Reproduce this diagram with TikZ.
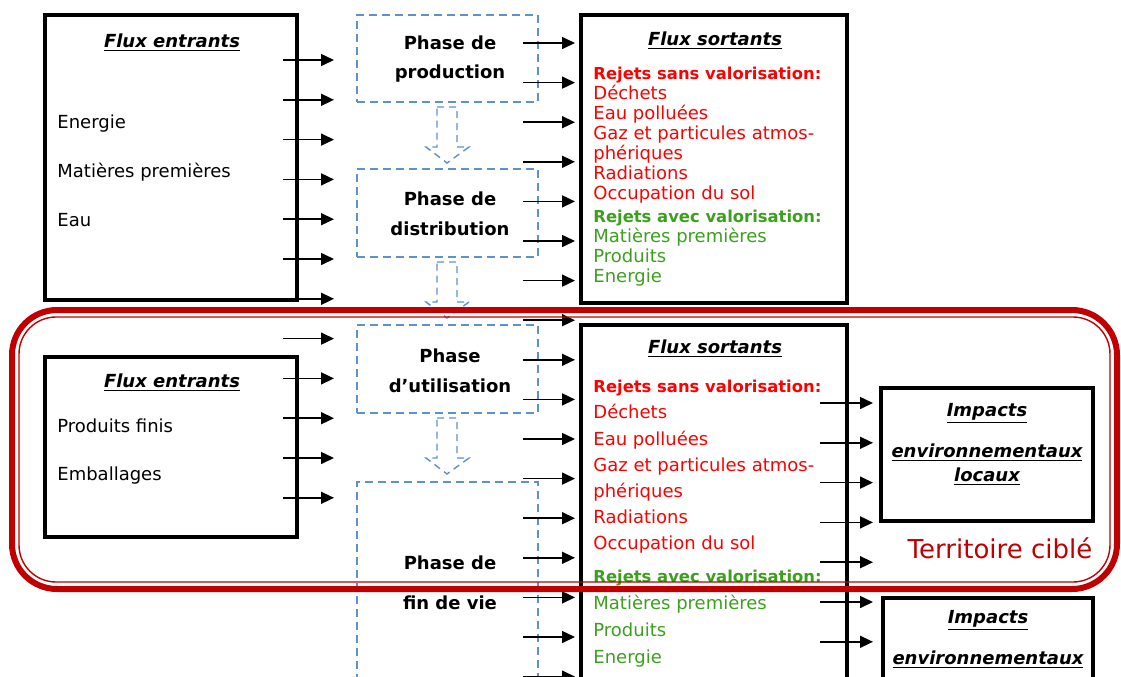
\documentclass[tikz,border=0pt]{standalone}
\usepackage{fontspec}
\setmainfont{DejaVu Sans}
\usetikzlibrary{arrows.meta,positioning}
\definecolor{rouge}{RGB}{255,0,0}
\definecolor{vert}{RGB}{60,160,30}
\definecolor{bleu}{RGB}{95,145,205}
\definecolor{bordeaux}{RGB}{192,0,0}
\tikzset{
  flux/.style={draw=black,line width=2.2pt,inner sep=0pt},
  phasebox/.style={draw=bleu,dash pattern=on 4pt off 2.5pt,line width=0.7pt,inner sep=0pt},
  phasearr/.style={draw=bleu,dash pattern=on 3.5pt off 2.5pt,line width=0.7pt},
  arr/.style={-{Triangle[length=6.5pt,width=6pt]},line width=0.8pt},
  titre/.style={anchor=base,inner sep=0pt,font=\fontsize{9}{10}\selectfont\bfseries\itshape},
  ptxt/.style={anchor=base,inner sep=0pt,font=\fontsize{9}{10}\selectfont\bfseries},
  txt/.style={anchor=base west,inner sep=0pt,font=\fontsize{9}{10}\selectfont},
  rtxt/.style={txt,text=rouge},
  vtxt/.style={txt,text=vert},
  rbold/.style={txt,text=rouge,font=\fontsize{8.2}{10}\selectfont\bfseries},
  vbold/.style={txt,text=vert,font=\fontsize{8.2}{10}\selectfont\bfseries},
  terr/.style={draw=bordeaux},
}

\begin{document}
\begin{tikzpicture}[x=0.5pt,y=-0.5pt]
  \useasboundingbox (0,0) rectangle (1121,676);
  \clip (0,0) rectangle (1121,676);
  % flux entrants
  \node[flux,minimum width=126pt,minimum height=142.5pt] (FE1) at (171,157.5) {};
  \node[titre] (FE1t) at (172,47) {\underline{Flux entrants}};
  \node[txt] (FE1a) at (57,128) {Energie};
  \node[txt] (FE1b) at (57,177) {Matières premières};
  \node[txt] (FE1c) at (57,226) {Eau};
  \node[flux,minimum width=126pt,minimum height=90pt] (FE2) at (171,447) {};
  \node[titre] (FE2t) at (172,387) {\underline{Flux entrants}};
  \node[txt] (FE2a) at (57,432) {Produits finis};
  \node[txt] (FE2b) at (57,480) {Emballages};
  % phases
  \node[phasebox,minimum width=90.5pt,minimum height=43.5pt] (P1) at (447.5,58.5) {};
  \node[phasebox,minimum width=90.5pt,minimum height=44pt] (P2) at (447.5,213) {};
  \node[phasebox,minimum width=90.5pt,minimum height=44pt] (P3) at (447.5,369) {};
  \node[phasebox,minimum width=90.5pt,minimum height=139pt] (P4) at (447.5,621) {};
  \node[ptxt] (P1a) at (450,49) {Phase de};
  \node[ptxt] (P1b) at (450,78) {production};
  \node[ptxt] (P2a) at (450,205) {Phase de};
  \node[ptxt] (P2b) at (450,235) {distribution};
  \node[ptxt] (P3a) at (450,362) {Phase};
  \node[ptxt] (P3b) at (450,392) {d’utilisation};
  \node[ptxt] (P4a) at (450,569) {Phase de};
  \node[ptxt] (P4b) at (450,609) {fin de vie};
  \foreach \t in {107,262,418}
    \draw[phasearr] (437,\t) -- (457,\t) -- (457,{\t+40}) -- (469,{\t+40})
      -- (447,{\t+56}) -- (426,{\t+40}) -- (437,{\t+40}) -- cycle;
  % flux sortants
  \node[flux,minimum width=133pt,minimum height=144pt] (FS1) at (714,159) {};
  \node[titre] (FS1t) at (715,45) {\underline{Flux sortants}};
  \node[rbold] (FS1r) at (593,79) {Rejets sans valorisation:};
  \foreach \y/\t in {99/Déchets,119/Eau polluées,139/Gaz et particules atmos-,
      159/phériques,179/Radiations,199/Occupation du sol}
    \node[rtxt] (r\y) at (593,\y) {\t};
  \node[vbold] (FS1v) at (593,222) {Rejets avec valorisation:};
  \foreach \y/\t in {242/Matières premières,262/Produits,282/Energie}
    \node[vtxt] (v\y) at (593,\y) {\t};
  \node[flux,minimum width=133pt,minimum height=217.5pt] (FS2) at (714,542.5) {};
  \node[titre] (FS2t) at (715,353) {\underline{Flux sortants}};
  \node[rbold] (FS2r) at (593,392) {Rejets sans valorisation:};
  \foreach \y/\t in {418/Déchets,445/Eau polluées,471/Gaz et particules atmos-,
      497/phériques,523/Radiations,549/Occupation du sol}
    \node[rtxt] (r\y) at (593,\y) {\t};
  \node[vbold] (FS2v) at (593,582) {Rejets avec valorisation:};
  \foreach \y/\t in {609/Matières premières,636/Produits,663/Energie}
    \node[vtxt] (v\y) at (593,\y) {\t};
  % impacts
  \node[flux,line width=2pt,minimum width=106pt,minimum height=66.5pt] (IM1) at (987,454.5) {};
  \node[titre] (IM1a) at (987,416) {\underline{Impacts}};
  \node[titre] (IM1b) at (987,457) {\underline{environnementaux}};
  \node[titre] (IM1c) at (987,481) {\underline{locaux}};
  \node[flux,line width=2pt,minimum width=105pt,minimum height=71pt] (IM2) at (988,669) {};
  \node[titre] (IM2a) at (988,623) {\underline{Impacts}};
  \node[titre] (IM2b) at (988,664) {\underline{environnementaux}};
  % fleches
  \foreach \k in {0,...,11}{
    \coordinate (e\k a) at (283,{60+39.8*\k});
    \coordinate (e\k b) at (334,{60+39.8*\k});
    \draw[arr] (e\k a) -- (e\k b);
  }
  \foreach \k in {0,...,16}{
    \coordinate (s\k a) at (523,{43+39.6*\k});
    \coordinate (s\k b) at (575,{43+39.6*\k});
    \draw[arr] (s\k a) -- (s\k b);
  }
  \foreach \k in {0,...,6}{
    \coordinate (i\k a) at (820,{403+39.8*\k});
    \coordinate (i\k b) at (873,{403+39.8*\k});
    \draw[arr] (i\k a) -- (i\k b);
  }
  % territoire
  \draw[terr,line width=3pt,rounded corners=22.5pt] (12,310) rectangle (1117,589);
  \draw[terr,line width=0.7pt,rounded corners=18.5pt] (19,317) rectangle (1110,582);
  \node[anchor=base,inner sep=0pt,text=bordeaux,font=\fontsize{13}{15}\selectfont] (T) at (1000,558) {Territoire ciblé};
\end{tikzpicture}
\end{document}
